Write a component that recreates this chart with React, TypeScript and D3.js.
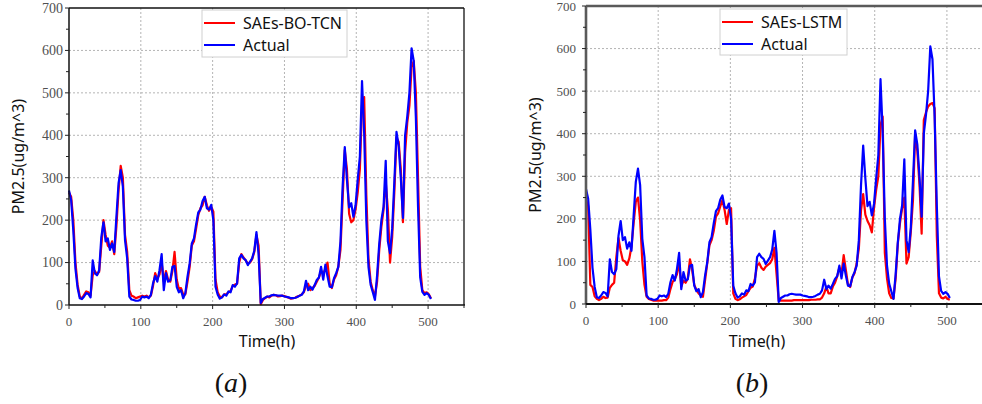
import React from "react";
import * as d3 from "d3";

// hourly PM2.5, one value every 3 hours (0..504)
const actual = [
  270, 247, 175, 85, 40, 16, 14, 20, 28, 26,
  18, 105, 75, 70, 82, 160, 195, 150, 157, 130,
  145, 125, 208, 287, 318, 279, 153, 110, 20, 13,
  12, 10, 10, 12, 20, 18, 20, 16, 24, 51,
  68, 55, 82, 120, 35, 75, 55, 58, 90, 92,
  43, 30, 35, 16, 28, 67, 98, 145, 157, 190,
  218, 225, 245, 255, 228, 225, 236, 200, 43, 25,
  15, 18, 25, 22, 32, 30, 47, 43, 51, 110,
  118, 110, 106, 94, 102, 110, 128, 172, 120, 5,
  14, 17, 20, 20, 23, 24, 23, 22, 22, 22,
  20, 19, 18, 16, 16, 17, 19, 22, 24, 32,
  57, 35, 43, 36, 47, 59, 65, 90, 60, 95,
  67, 43, 42, 63, 75, 90, 150, 279, 372, 295,
  230, 240, 208, 235, 295, 350, 528, 405, 200, 90,
  48, 30, 12, 70, 145, 200, 232, 340, 150, 122,
  180, 290, 408, 375, 300, 205, 400, 444, 500, 605,
  575, 440, 232, 65, 31, 24, 28, 24, 14,
];

const saesBoTcn = [
  265, 255, 200, 100, 48, 20, 15, 24, 32, 30,
  22, 70, 80, 72, 78, 140, 200, 165, 140, 135,
  150, 120, 185, 270, 328, 300, 165, 125, 35, 22,
  20, 16, 18, 20, 22, 20, 22, 18, 22, 45,
  75, 62, 72, 100, 55, 80, 60, 55, 80, 125,
  60, 38, 40, 25, 25, 55, 90, 140, 150, 180,
  212, 228, 235, 255, 235, 222, 232, 220, 60, 30,
  20, 18, 25, 25, 30, 33, 45, 48, 50, 100,
  120, 112, 105, 98, 100, 108, 125, 165, 140, 2,
  12, 16, 20, 18, 22, 24, 23, 20, 21, 22,
  21, 19, 17, 15, 16, 17, 20, 22, 25, 30,
  45, 50, 35, 40, 45, 55, 65, 80, 75, 85,
  100, 50, 40, 60, 70, 90, 130, 250, 365, 320,
  215, 195, 200, 225, 265, 320, 470, 490, 260, 110,
  55, 35, 20, 55, 130, 185, 225, 290, 225, 100,
  160, 265, 395, 385, 320, 195, 360, 430, 470, 560,
  575, 500, 300, 90, 35, 28, 30, 25, 16,
];

const saesLstm = [
  245, 230, 45, 40, 18, 12, 9, 12, 17, 14,
  15, 38, 45, 50, 110, 155, 125, 103, 100, 92,
  107, 135, 190, 240, 250, 197, 100, 45, 17, 12,
  10, 8, 8, 8, 8, 8, 9, 9, 15, 35,
  52, 58, 70, 98, 41, 55, 50, 60, 105, 80,
  45, 33, 25, 20, 17, 56, 96, 138, 150, 172,
  205, 213, 229, 244, 221, 188, 221, 225, 25, 12,
  9, 11, 15, 18, 21, 30, 38, 41, 60, 90,
  96, 85, 80, 88, 92, 96, 105, 132, 70, 8,
  8, 8, 8, 8, 8, 8, 9, 9, 9, 9,
  9, 9, 9, 9, 10, 10, 10, 11, 11, 15,
  25, 41, 25, 25, 41, 50, 65, 85, 72, 115,
  80, 45, 40, 62, 72, 95, 130, 220, 258, 210,
  195, 185, 168, 225, 268, 300, 420, 440, 120, 60,
  25, 14, 13, 60, 142, 190, 225, 250, 95, 110,
  170, 244, 400, 360, 280, 165, 432, 450, 464, 470,
  472, 460, 160, 25, 15, 13, 17, 12, 10,
];

const hours = actual.map((_, i) => i * 3);
const xTicks = [0, 100, 200, 300, 400, 500];
const xMinor = [50, 150, 250, 350, 450, 550];
const yTicks = [0, 100, 200, 300, 400, 500, 600, 700];
const yMinor = [50, 150, 250, 350, 450, 550, 650];

const serif = "'Liberation Serif', 'Times New Roman', serif";
const sans = "'Noto Sans', 'Open Sans', sans-serif";

type PanelProps = {
  x0: number;
  x1: number;
  yTop: number;
  yBottom: number;
  pred: number[];
  predName: string;
  legend: { x: number; y: number; w: number; h: number };
  heavy: boolean;
  yLabelX: number;
  xLabelX: number;
  yTickGap: number;
  yTickSize: number;
  tag: string;
  tagX: number;
};

function Panel(p: PanelProps) {
  const x = d3.scaleLinear().domain([0, 550]).range([p.x0, p.x1]);
  const y = d3.scaleLinear().domain([0, 700]).range([p.yBottom, p.yTop]);
  const line = d3
    .line<number>()
    .x((_, i) => x(hours[i]))
    .y((d) => y(d));

  const frame = p.heavy ? "#5a5a5a" : "#111";
  const frameW = p.heavy ? 2.6 : 1.5;
  const lg = p.legend;

  return (
    <g>
      {/* grid */}
      {xTicks.slice(1).map((t) => (
        <line key={"gx" + t} x1={x(t)} x2={x(t)} y1={p.yTop} y2={p.yBottom}
          stroke="#b4b4b4" strokeWidth={1} strokeDasharray="2,2" />
      ))}
      {yTicks.slice(1, -1).map((t) => (
        <line key={"gy" + t} x1={p.x0} x2={p.x1} y1={y(t)} y2={y(t)}
          stroke="#b4b4b4" strokeWidth={1} strokeDasharray="2,2" />
      ))}

      {/* series */}
      <path d={line(p.pred) || ""} fill="none" stroke="#ff0000" strokeWidth={2.2} strokeLinejoin="round" />
      <path d={line(actual) || ""} fill="none" stroke="#0000ff" strokeWidth={2.2} strokeLinejoin="round" />

      {/* frame */}
      <line x1={p.x0} x2={p.x1} y1={p.yTop} y2={p.yTop} stroke={frame} strokeWidth={p.heavy ? 2.4 : 1.3} />
      <line x1={p.x1} x2={p.x1} y1={p.yTop} y2={p.yBottom} stroke={frame} strokeWidth={1.3} />
      <line x1={p.x0} x2={p.x0} y1={p.yTop} y2={p.yBottom} stroke={frame} strokeWidth={frameW} />
      <line x1={p.x0} x2={p.x1 + 1} y1={p.yBottom} y2={p.yBottom} stroke="#111" strokeWidth={p.heavy ? 2 : 1.5} />

      {/* ticks */}
      {xTicks.map((t) => (
        <g key={"xt" + t}>
          <line x1={x(t)} x2={x(t)} y1={p.yBottom} y2={p.yBottom + 4} stroke="#222" />
          <text x={x(t)} y={p.yBottom + 21} textAnchor="middle" fontFamily={serif}
            fontSize={13} fill="#505050">{t}</text>
        </g>
      ))}
      {xMinor.map((t) => (
        <line key={"xm" + t} x1={x(t)} x2={x(t)} y1={p.yBottom} y2={p.yBottom + 3} stroke="#222" />
      ))}
      {yTicks.map((t) => (
        <g key={"yt" + t}>
          <line x1={p.x0 - 4} x2={p.x0} y1={y(t)} y2={y(t)} stroke="#222" />
          <text x={p.x0 - p.yTickGap} y={y(t)} dy="0.35em" textAnchor="end" fontFamily={serif}
            fontSize={p.yTickSize} fill="#505050">{t}</text>
        </g>
      ))}
      {yMinor.map((t) => (
        <line key={"ym" + t} x1={p.x0 - 3} x2={p.x0} y1={y(t)} y2={y(t)} stroke="#222" />
      ))}

      {/* axis titles */}
      <text x={p.xLabelX} y={347} textAnchor="middle"
        fontFamily={sans} fontSize={16} fill="#111">Time(h)</text>
      <text transform={`translate(${p.yLabelX},${(p.yTop + p.yBottom) / 2}) rotate(-90)`}
        textAnchor="middle" fontFamily={sans} fontSize={16} fill="#111">PM2.5(ug/m^3)</text>

      {/* legend */}
      <rect x={lg.x} y={lg.y} width={lg.w} height={lg.h} fill="#fff" stroke="#d0d0d0" strokeWidth={1} />
      <line x1={lg.x + 2} x2={lg.x + 33} y1={lg.y + 13} y2={lg.y + 13} stroke="#ff0000" strokeWidth={2} />
      <text x={lg.x + 41} y={lg.y + 19} fontFamily={sans} fontSize={16} fill="#111">{p.predName}</text>
      <line x1={lg.x + 2} x2={lg.x + 33} y1={lg.y + 35} y2={lg.y + 35} stroke="#0000ff" strokeWidth={2} />
      <text x={lg.x + 41} y={lg.y + 41} fontFamily={sans} fontSize={16} fill="#111">Actual</text>

      {/* panel tag */}
      <text x={p.tagX} y={392} textAnchor="middle" fontFamily={serif} fontSize={28} fill="#111">
        (<tspan fontStyle="italic">{p.tag}</tspan>)
      </text>
    </g>
  );
}

export default function App() {
  return (
    <svg width={982} height={404} style={{ position: "absolute", left: 0, top: 0, background: "#fff" }}>
      <rect width={982} height={404} fill="#fff" />
      <Panel x0={69} x1={464} yTop={8} yBottom={305} pred={saesBoTcn} predName="SAEs-BO-TCN"
        legend={{ x: 202, y: 10, w: 145, h: 47 }} heavy={false} yLabelX={24} xLabelX={267}
        yTickGap={6} yTickSize={14} tag="a" tagX={231} />
      <Panel x0={586} x1={983} yTop={6} yBottom={304} pred={saesLstm} predName="SAEs-LSTM"
        legend={{ x: 720, y: 9, w: 127, h: 46 }} heavy={true} yLabelX={541} xLabelX={757}
        yTickGap={10} yTickSize={13} tag="b" tagX={752} />
    </svg>
  );
}
